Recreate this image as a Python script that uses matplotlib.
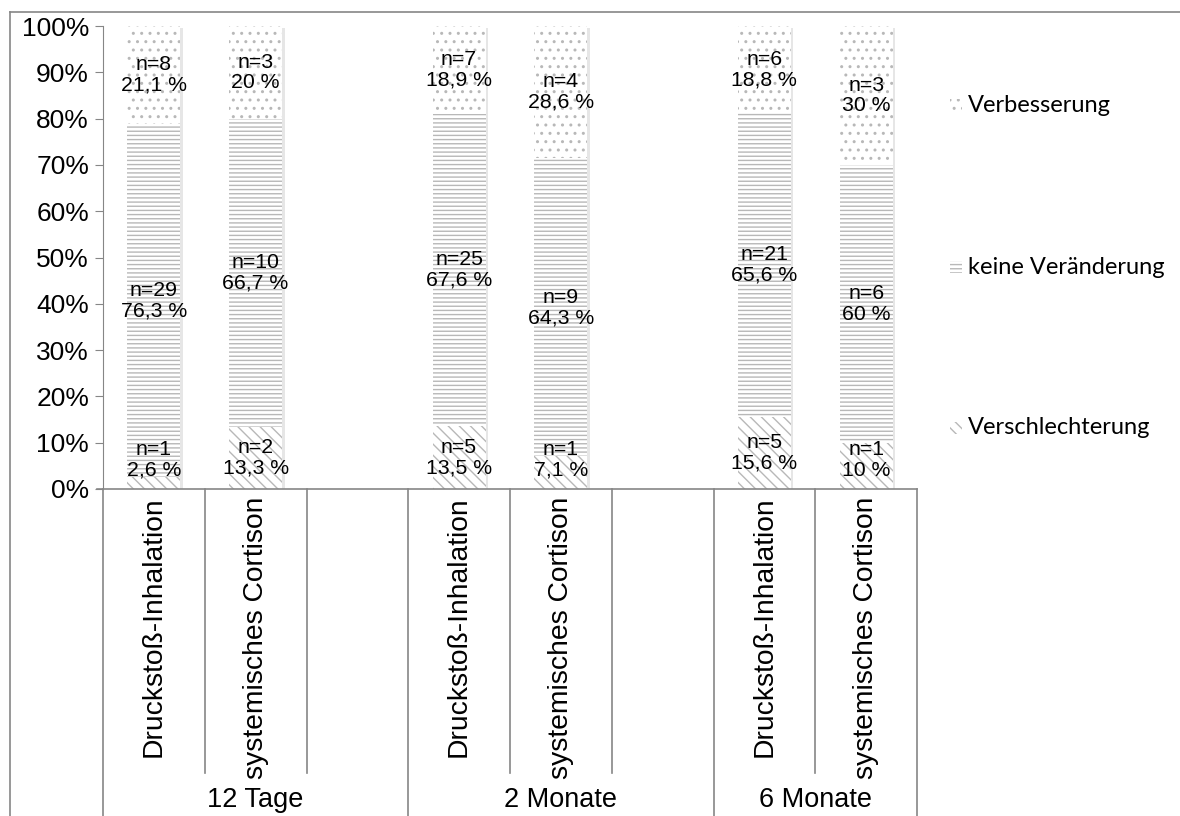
import numpy as np
import matplotlib.pyplot as plt
from matplotlib.lines import Line2D
from matplotlib.patches import Rectangle

# categories (8 slots, empty slot between groups)
categories = ["Druckstoß-Inhalation", "systemisches Cortison", "",
              "Druckstoß-Inhalation", "systemisches Cortison", "",
              "Druckstoß-Inhalation", "systemisches Cortison"]
groups = ["12 Tage", "2 Monate", "6 Monate"]
group_slots = [(0, 3), (3, 6), (6, 8)]

# percentages per series (None = empty slot)
verschlechterung = [2.6, 13.3, None, 13.5, 7.1, None, 15.6, 10.0]
keine = [76.3, 66.7, None, 67.6, 64.3, None, 65.6, 60.0]
verbesserung = [21.1, 20.0, None, 18.9, 28.6, None, 18.8, 30.0]
n_versch = [1, 2, None, 5, 1, None, 5, 1]
n_keine = [29, 10, None, 25, 9, None, 21, 6]
n_verb = [8, 3, None, 7, 4, None, 6, 3]
pct_text_versch = ["2,6 %", "13,3 %", "", "13,5 %", "7,1 %", "", "15,6 %", "10 %"]
pct_text_keine = ["76,3 %", "66,7 %", "", "67,6 %", "64,3 %", "", "65,6 %", "60 %"]
pct_text_verb = ["21,1 %", "20 %", "", "18,9 %", "28,6 %", "", "18,8 %", "30 %"]

series_names = ["Verschlechterung", "keine Veränderung", "Verbesserung"]
hatches = ["\\\\\\", "----", ".."]

W, H = 1180, 816
fig = plt.figure(figsize=(W / 100, H / 100), dpi=100)
ax = fig.add_axes([103 / W, (H - 489) / H, (917 - 103) / W, (489 - 26) / H])

plt.rcParams['hatch.color'] = '#b8b8b8'
plt.rcParams['hatch.linewidth'] = 1.0

idx = [i for i, v in enumerate(keine) if v is not None]
x = np.arange(len(categories))
bw = 0.52

def vals(lst):
    return np.array([lst[i] for i in idx], dtype=float)

v1, v2, v3 = vals(verschlechterung), vals(keine), vals(verbesserung)
xs = x[idx]

# subtle shadow
ax.bar(xs + 0.025, v1 + v2 + v3, bw, bottom=-0.5, color='#e6e6e6', zorder=1)

bottoms = [np.zeros(len(xs)), v1, v1 + v2]
for vv, bot, hatch in zip([v1, v2, v3], bottoms, hatches):
    ax.bar(xs, vv, bw, bottom=bot, color='white', edgecolor='#b8b8b8',
           linewidth=0, hatch=hatch, zorder=2)

lab_font = dict(fontsize=15.3, family='Liberation Sans', ha='center',
                va='center', zorder=5, linespacing=1.1)
for k, i in enumerate(idx):
    segs = [(v1[k], 0, n_versch[i], pct_text_versch[i]),
            (v2[k], v1[k], n_keine[i], pct_text_keine[i]),
            (v3[k], v1[k] + v2[k], n_verb[i], pct_text_verb[i])]
    for val, bot, n, txt in segs:
        yc = bot + val / 2
        yc = max(yc, 6.3)
        ax.text(xs[k], yc, f"n={n}\n{txt}", **lab_font)

ax.set_xlim(-0.5, len(categories) - 0.5)
ax.set_ylim(0, 100)
ax.set_yticks(np.arange(0, 101, 10))
ax.set_yticklabels([f"{t}%" for t in range(0, 101, 10)],
                   fontsize=19, family='Liberation Sans')
ax.tick_params(axis='y', length=6, color='#868686', pad=4)
ax.set_xticks([])
for s in ['top', 'right', 'bottom']:
    ax.spines[s].set_visible(False)
ax.spines['left'].set_color('#868686')

# category table below axis
tr = ax.get_xaxis_transform()
line_kw = dict(color='#868686', lw=1.2, transform=tr, clip_on=False)
y_bot = -(H - 489) / 463
y_inner = -(773 - 489) / 463
ax.add_line(Line2D([-0.5 - 0.06, len(categories) - 0.5], [0, 0], **line_kw))
group_edges = [-0.5] + [g[1] - 0.5 for g in group_slots]
for e in group_edges:
    ax.add_line(Line2D([e, e], [0, y_bot], **line_kw))
for g0, g1 in group_slots:
    for b in range(g0 + 1, g1):
        ax.add_line(Line2D([b - 0.5, b - 0.5], [0, y_inner], **line_kw))

for i, c in enumerate(categories):
    if c:
        ax.text(i, -0.017, c, rotation=90, ha='center', va='top', transform=tr,
                fontsize=20.3, family='Liberation Sans')
for g, (g0, g1) in zip(groups, group_slots):
    ax.text((g0 + g1 - 1) / 2, -(800 - 489) / 463, g, ha='center', va='center',
            transform=tr, fontsize=19.5, family='Liberation Sans')

# legend
leg_y = [105, 267, 428]
for name, hatch, yy in zip(series_names[::-1], hatches[::-1], leg_y):
    fig.add_artist(Rectangle((950 / W, (H - yy - 6) / H), 12 / W, 12 / H,
                             transform=fig.transFigure, facecolor='white',
                             edgecolor='#b8b8b8', linewidth=0, hatch=hatch))
    fig.text(968 / W, (H - yy) / H, name, ha='left', va='center',
             fontsize=17, family='Lato')

# outer frame (partly cut off)
fig.add_artist(Line2D([10 / W, 10 / W], [0, (H - 12) / H], color='#868686',
                      lw=1.2, transform=fig.transFigure))
fig.add_artist(Line2D([10 / W, 1], [(H - 12) / H, (H - 12) / H], color='#868686',
                      lw=1.2, transform=fig.transFigure))

fig.savefig("out.png", dpi=100)
